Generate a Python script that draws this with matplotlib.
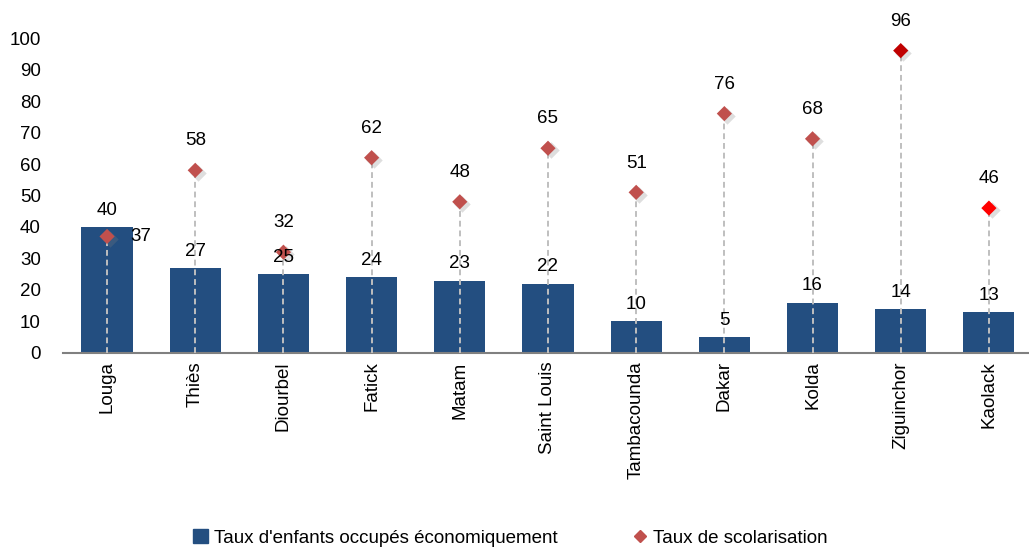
import matplotlib
matplotlib.use("Agg")
import matplotlib.pyplot as plt
from matplotlib.lines import Line2D
from matplotlib.patches import Patch

regions = ["Louga", "Thiès", "Diourbel", "Fatick", "Matam", "Saint Louis",
           "Tambacounda", "Dakar", "Kolda", "Ziguinchor", "Kaolack"]
taux_occupes = [40, 27, 25, 24, 23, 22, 10, 5, 16, 14, 13]
taux_scolarisation = [37, 58, 32, 62, 48, 65, 51, 76, 68, 96, 46]

plt.rcParams['font.family'] = ['Liberation Sans', 'DejaVu Sans']

bar_color = "#234E80"
marker_colors = ["#C0504D"] * 9 + ["#C00000", "#FF0000"]

fig = plt.figure(figsize=(10.29, 5.47), dpi=100)
ax = fig.add_axes([0.0612, 0.3547, 0.9427, 0.5758])

x = range(len(regions))
ax.bar(x, taux_occupes, width=0.58, color=bar_color, zorder=2)
ax.vlines(x, 0, taux_scolarisation, colors="#BFBFBF", linestyles=(0, (3, 2)),
          linewidth=1.4, zorder=3)
# ombre légère sous les losanges
ax.scatter([i + 0.03 for i in x], [v - 0.7 for v in taux_scolarisation], marker="D",
           s=70, color="#7F7F7F", alpha=0.25, zorder=3.5, clip_on=False, linewidths=0)
ax.scatter(x, taux_scolarisation, marker="D", s=60, c=marker_colors,
           zorder=4, clip_on=False, linewidths=0)

for i, (b, s) in enumerate(zip(taux_occupes, taux_scolarisation)):
    ax.annotate(str(b), (i, b), xytext=(0, 6), textcoords="offset points",
                ha="center", va="bottom", fontsize=13.5, zorder=5)
    if i == 0:
        ax.annotate(str(s), (i, s), xytext=(17, 0), textcoords="offset points",
                    ha="left", va="center", fontsize=13.5, zorder=5)
    else:
        ax.annotate(str(s), (i, s), xytext=(0, 15), textcoords="offset points",
                    ha="center", va="bottom", fontsize=13.5, zorder=5,
                    annotation_clip=False)

ax.set_xlim(-0.5, len(regions) - 0.5)
ax.set_ylim(0, 100)
ax.set_yticks(range(0, 101, 10))
ax.set_xticks(list(x))
ax.set_xticklabels(regions, rotation=90, fontsize=13.5)
ax.tick_params(axis="y", length=0, labelsize=13.5, pad=16)
ax.tick_params(axis="x", length=0, pad=6)
for side in ["left", "right", "top"]:
    ax.spines[side].set_visible(False)
ax.spines["bottom"].set_color("#808080")
ax.spines["bottom"].set_linewidth(1.5)

handles = [Patch(color=bar_color),
           Line2D([], [], marker="D", color="#C0504D", linestyle="none", markersize=6)]
fig.legend(handles, ["Taux d'enfants occupés économiquement", "Taux de scolarisation"],
           loc="lower center", bbox_to_anchor=(0.496, -0.03), ncol=2, frameon=False,
           fontsize=13.5, columnspacing=4.0, handlelength=0.8, handletextpad=0.3)

fig.savefig("out.png", dpi=100)
